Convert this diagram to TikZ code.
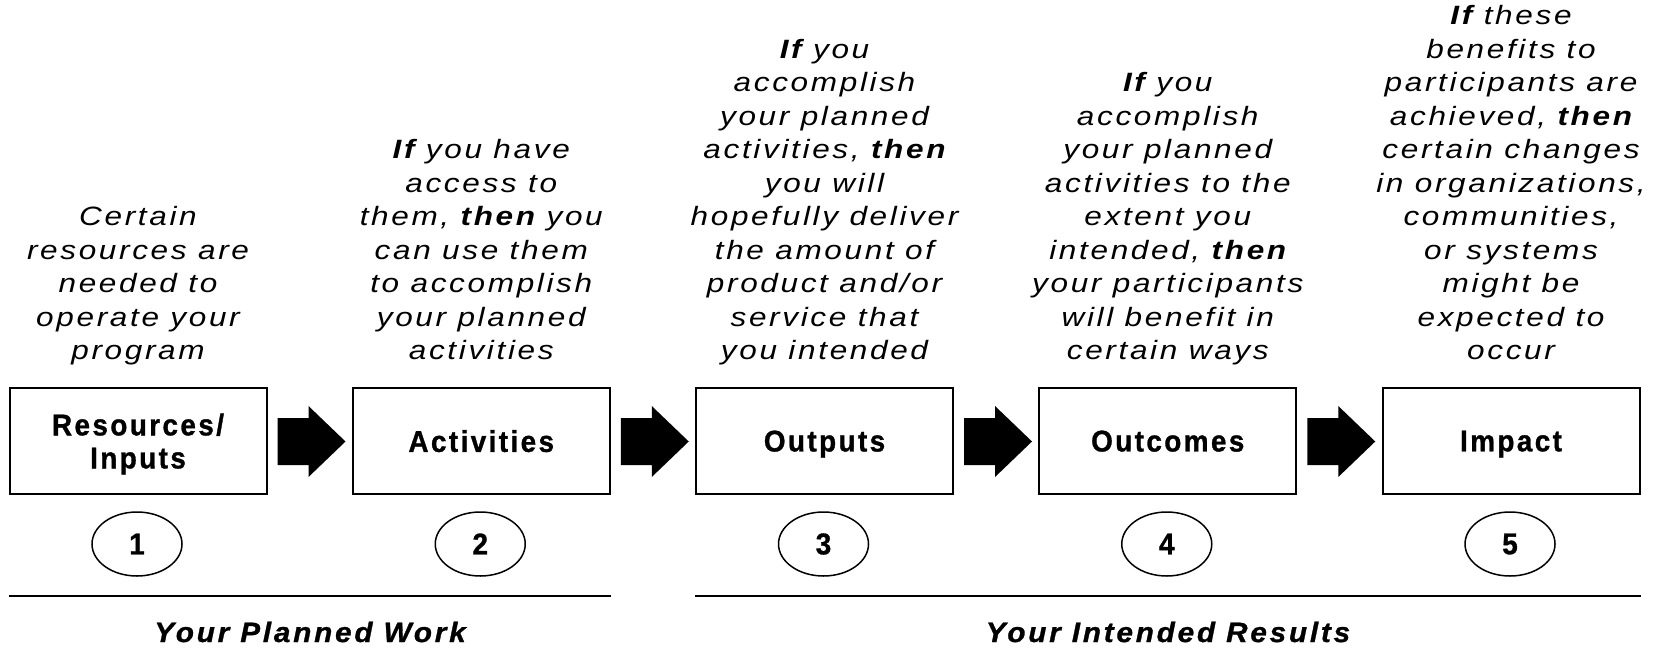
\documentclass[tikz,border=0pt]{standalone}
\usepackage{fontspec}
\usetikzlibrary{shapes.geometric,calc}
\newfontfamily\descfont[FakeStretch=1.19,LetterSpace=10]{Liberation Sans}
\newfontfamily\labfont[FakeStretch=0.93,LetterSpace=8,FakeBold=1]{Liberation Sans}
\newfontfamily\partfont[FakeStretch=1.06,LetterSpace=10,FakeBold=1]{Liberation Sans}
\tikzset{
  desc/.style={anchor=south, inner sep=0pt, align=center,
    font=\descfont\itshape\fontsize{13.25}{16.75}\selectfont},
  stage/.style={draw, line width=1pt, minimum width=128.5pt, minimum height=53pt,
    inner sep=0pt, align=center, text depth=0pt,
    font=\labfont\bfseries\fontsize{15}{16.5}\selectfont},
  num/.style={draw, ellipse, line width=0.75pt, minimum width=45pt, minimum height=32pt,
    inner sep=0pt, font=\labfont\bfseries\fontsize{15}{16.5}\selectfont},
  blockarrow/.style={fill=black},
  part/.style={anchor=base, inner sep=0pt,
    font=\partfont\bfseries\itshape\fontsize{14}{16}\selectfont},
  sepline/.style={line width=1pt}
}
\begin{document}
\begin{tikzpicture}[x=0.5pt,y=-0.5pt]
\useasboundingbox (0,0) rectangle (1657,647);

% description texts
\node[desc] (t1) at (138,370) {Certain\\resources are\\needed to\\operate your\\program\strut};
\node[desc] (t2) at (481.25,370) {\textbf{If} you have\\access to\\them, \textbf{then} you\\can use them\\to accomplish\\your planned\\activities\strut};
\node[desc] (t3) at (824.5,370) {\textbf{If} you\\accomplish\\your planned\\activities, \textbf{then}\\you will\\hopefully deliver\\the amount of\\product and/or\\service that\\you intended\strut};
\node[desc] (t4) at (1167.75,370) {\textbf{If} you\\accomplish\\your planned\\activities to the\\extent you\\intended, \textbf{then}\\your participants\\will benefit in\\certain ways\strut};
\node[desc] (t5) at (1511,370) {\textbf{If} these\\benefits to\\participants are\\achieved, \textbf{then}\\certain changes\\in organizations,\\communities,\\or systems\\might be\\expected to\\occur\strut};

% stage boxes
\node[stage] (b1) at (138,441) {Resources/\\Inputs};
\node[stage] (b2) at (481.25,441) {Activities};
\node[stage] (b3) at (824.5,441) {Outputs};
\node[stage] (b4) at (1167.75,441) {Outcomes};
\node[stage] (b5) at (1511,441) {Impact};

% block arrows
\foreach \i in {1,2,3,4}{
  \fill[blockarrow] ($(b\i.east)+(10,-23)$) -- ++(31,0) -- ++(0,-12) -- ++(37,35.5)
    -- ++(-37,35.5) -- ++(0,-12) -- ++(-31,0) -- cycle;
}

% numbers
\node[num] (c1) at (137,544) {1};
\node[num] (c2) at (480.25,544) {2};
\node[num] (c3) at (823.5,544) {3};
\node[num] (c4) at (1166.75,544) {4};
\node[num] (c5) at (1510,544) {5};

% separator lines
\coordinate (ly) at (0,595.5);
\draw[sepline] (b1.west |- ly) -- (b2.east |- ly);
\draw[sepline] (b3.west |- ly) -- (b5.east |- ly);

% part labels
\node[part] (p1) at (310,642) {Your Planned Work};
\node[part] (p2) at (1168,642) {Your Intended Results};
\end{tikzpicture}
\end{document}
